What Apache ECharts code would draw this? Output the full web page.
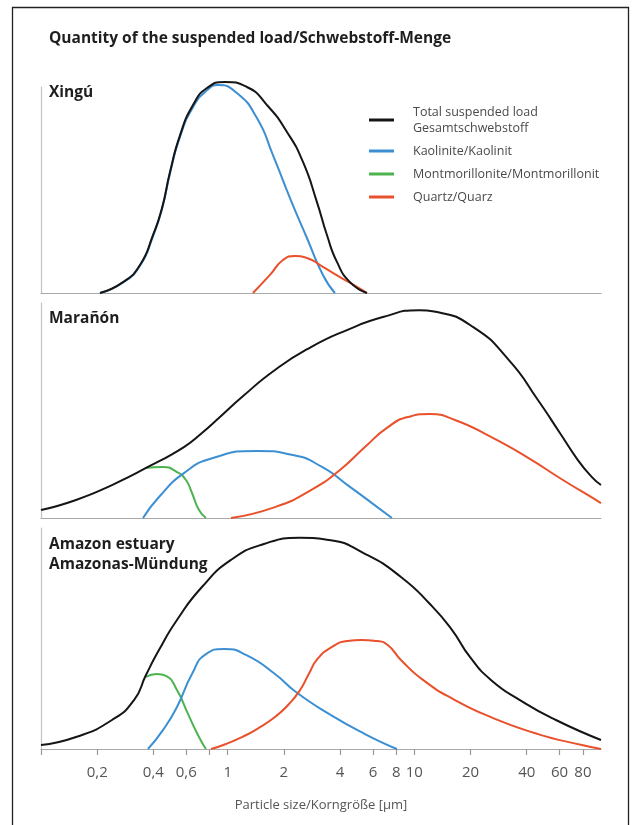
<!DOCTYPE html>
<html>
<head>
<meta charset="utf-8">
<script src="https://cdn.jsdelivr.net/npm/echarts@6/dist/echarts.min.js"></script>
<style>html,body{margin:0;padding:0;background:#fff;}#c{width:635px;height:825px;}</style>
</head>
<body>
<div id="c"></div>
<script>
// ---- data: [particle size in µm, relative quantity] ----
const tickValues = [0.1, 0.2, 0.4, 0.6, 0.8, 1, 2, 4, 6, 8, 10, 20, 40, 60, 80];
const tickLabelValues = [0.2, 0.4, 0.6, 1, 2, 4, 6, 8, 10, 20, 40, 60, 80];
const seriesNames = ['Total suspended load\nGesamtschwebstoff', 'Kaolinite/Kaolinit', 'Montmorillonite/Montmorillonit', 'Quartz/Quarz'];
const panelNames = ['Xingú', 'Marañón', 'Amazon estuary\nAmazonas-Mündung'];

const xinguTotal = [[0.207,0],[0.275,5.2],[0.339,13.3],[0.398,27.6],[0.445,40.5],[0.491,57.6],[0.556,75.2],[0.652,89.5],[0.774,97.6],[0.967,100.5],[1.268,98.1],[1.624,89.5],[2.078,76.7],[2.532,62.4],[3.008,43.3],[3.403,27.6],[3.85,14.8],[4.519,5.2],[5.573,0]];
const xinguKaolinite = [[0.207,0],[0.275,5],[0.339,13],[0.398,27],[0.445,40],[0.491,57],[0.556,74.5],[0.652,88.5],[0.774,96.5],[0.887,99],[1.121,95.2],[1.435,83.3],[1.748,65.7],[2.157,45.2],[2.659,26.2],[3.238,8.6],[3.756,0]];
const xinguQuartz = [[1.366,0],[1.685,8.6],[1.978,15.7],[2.294,17.6],[2.659,16.7],[3.238,12.4],[3.996,7.6],[4.927,2.9],[5.573,0]];

const maranonTotal = [[0.1,3.8],[0.154,8.6],[0.24,15.7],[0.374,24.3],[0.583,33.8],[0.728,40.5],[0.909,48.1],[1.193,57.6],[1.792,70.5],[2.794,81.4],[4.355,89.5],[6.787,95.7],[10.58,99],[13.21,98.1],[20.6,91],[32.11,75.2],[45.92,56.2],[60.25,40.5],[75.2,27.6],[89.4,19.5],[100,15.7]];
const maranonMontmorillonite = [[0.361,23.8],[0.45,24.3],[0.535,21.9],[0.598,18.1],[0.644,11.9],[0.702,3.8],[0.765,0]];
const maranonKaolinite = [[0.352,0],[0.4285,10],[0.583,21.4],[0.834,28.6],[1.435,31.9],[2.237,30],[3.2,24.3],[4.519,14.8],[5.928,7.1],[7.586,0]];
const maranonQuartz = [[1.042,0],[1.792,5.2],[2.794,13.3],[3.996,22.9],[5.437,33.8],[7.133,42.9],[9.242,48.1],[12.12,49.5],[16.5,46.7],[25.72,38.6],[40.11,29],[62.52,18.1],[93.9,8.6],[100,7.1]];

const amazonTotal = [[0.1,1.9],[0.154,5.7],[0.24,13.8],[0.315,23.3],[0.365,35.2],[0.4285,47.1],[0.535,61.4],[0.728,77.1],[1.042,90],[1.564,97.6],[2.439,100.5],[3.488,99.5],[5.437,92.9],[8.476,81.9],[12.12,69],[15.9,56.7],[19.85,43.8],[25.72,32.9],[36.77,23.3],[57.34,13.8],[100,4.3]];
const amazonMontmorillonite = [[0.365,34.3],[0.418,35.7],[0.467,34.8],[0.535,28.1],[0.613,16.7],[0.702,5.7],[0.765,0]];
const amazonKaolinite = [[0.374,0],[0.45,9],[0.535,20],[0.644,35.7],[0.765,45.2],[0.955,47.6],[1.253,44.8],[1.792,35.7],[2.322,27.1],[3.488,16.7],[5.437,7.1],[8.068,0]];
const amazonQuartz = [[0.814,0],[0.98,2.4],[1.193,5.7],[1.435,9.5],[1.792,15.2],[2.13,21.4],[2.439,28],[2.72,35.7],[3.03,42.9],[3.62,48.6],[4.355,51.4],[5.176,51.9],[6.3,51.4],[7.2,49.5],[8.476,42.4],[11.12,32.9],[16.5,23.3],[25.72,15.2],[45.92,7.1],[79,1.9],[100,0]];

// ---- styling / layout ----
const FONT = '"Open Sans", "Noto Sans", sans-serif';
const colors = ['#151515', '#3b8fd2', '#4cb34f', '#e8512b'];
const grids = [
  {left: 41, width: 560, top: 87, height: 206},
  {left: 41, width: 560, top: 303, height: 215},
  {left: 41, width: 560, top: 528, height: 221}
];
const yMax = [98.1, 102.4, 105.2];

const panels = [
  [[0, xinguTotal], [1, xinguKaolinite], [3, xinguQuartz]],
  [[0, maranonTotal], [2, maranonMontmorillonite], [1, maranonKaolinite], [3, maranonQuartz]],
  [[0, amazonTotal], [2, amazonMontmorillonite], [1, amazonKaolinite], [3, amazonQuartz]]
];

const xAxes = grids.map((g, i) => ({
  type: 'log', logBase: 10, min: 0.1, max: 100, gridIndex: i,
  axisLine: {show: true, lineStyle: {color: '#a9a9a9', width: 1.2}},
  axisTick: i === 2 ? {show: true, customValues: tickValues, length: 6, lineStyle: {color: '#999', width: 1.2}} : {show: false},
  axisLabel: i === 2 ? {show: true, customValues: tickLabelValues, margin: 16, fontSize: 15, color: '#555', fontFamily: FONT,
    formatter: v => String(v).replace('.', ',')} : {show: false},
  splitLine: {show: false}, minorTick: {show: false},
  name: i === 2 ? 'Particle size/Korngröße [µm]' : '',
  nameLocation: 'middle', nameGap: 50,
  nameTextStyle: {fontSize: 13, color: '#555', fontFamily: FONT}
}));
const yAxes = grids.map((g, i) => ({
  type: 'value', min: 0, max: yMax[i], gridIndex: i,
  axisLine: {show: true, lineStyle: {color: '#c4c4c4', width: 1.2}},
  axisTick: {show: false}, axisLabel: {show: false}, splitLine: {show: false}
}));

const series = [];
panels.forEach((p, gi) => {
  p.forEach(([ci, data]) => {
    series.push({
      type: 'line', name: seriesNames[ci], xAxisIndex: gi, yAxisIndex: gi,
      data: data, smooth: 0.55, symbol: 'none', clip: false,
      lineStyle: {color: colors[ci], width: 2}, itemStyle: {color: colors[ci]},
      z: ci === 0 ? 3 : 2
    });
  });
});

const labelPos = [[49, 93], [49, 319], [49, 545]];
const graphics = [
  {type: 'rect', shape: {x: 12.5, y: 7.5, width: 616, height: 840}, style: {fill: 'none', stroke: '#222', lineWidth: 1.3}, silent: true}
];
panelNames.forEach((t, i) => {
  graphics.push({type: 'text', left: labelPos[i][0], top: labelPos[i][1] - 10,
    style: {text: t, font: 'bold 15.5px ' + FONT, fill: '#1e1e1e', lineHeight: 20}});
});

const chart = echarts.init(document.getElementById('c'), null, {renderer: 'canvas'});
chart.setOption({
  animation: false,
  backgroundColor: '#fff',
  title: {text: 'Quantity of the suspended load/Schwebstoff-Menge', left: 44, top: 26,
    textStyle: {fontSize: 15.5, fontWeight: 'bold', color: '#1e1e1e', fontFamily: FONT}},
  legend: {
    data: seriesNames, orient: 'vertical', left: 364, top: 99, icon: 'rect',
    itemWidth: 25, itemHeight: 3, itemGap: 7, selectedMode: false,
    textStyle: {fontSize: 12.5, color: '#4a4a4a', lineHeight: 16, fontFamily: FONT, padding: [0, 0, 0, 14]}
  },
  grid: grids,
  xAxis: xAxes,
  yAxis: yAxes,
  series: series,
  graphic: graphics
});
</script>
</body>
</html>
